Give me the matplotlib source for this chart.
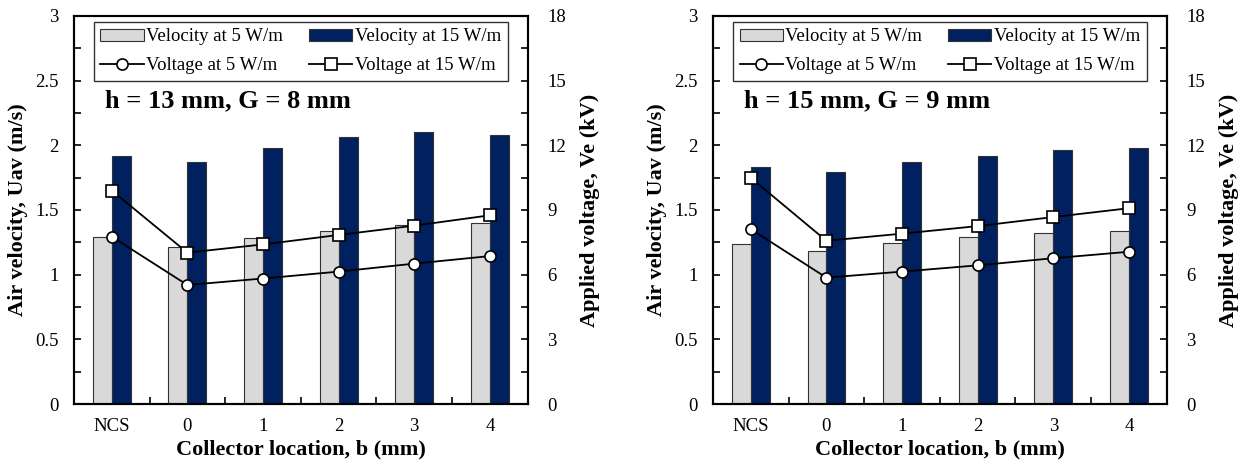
import matplotlib.pyplot as plt
from matplotlib.ticker import MultipleLocator, FixedLocator
import numpy as np

plt.rcParams['font.family'] = ['Liberation Serif', 'DejaVu Serif']

categories = ["NCS", "0", "1", "2", "3", "4"]

# h = 13 mm, G = 8 mm
vel5_a = [1.29, 1.21, 1.285, 1.34, 1.38, 1.40]
vel15_a = [1.92, 1.87, 1.98, 2.06, 2.10, 2.08]
volt5_a = [7.76, 5.52, 5.82, 6.14, 6.51, 6.86]
volt15_a = [9.90, 7.02, 7.40, 7.84, 8.27, 8.75]

# h = 15 mm, G = 9 mm
vel5_b = [1.24, 1.18, 1.245, 1.29, 1.325, 1.34]
vel15_b = [1.83, 1.79, 1.87, 1.92, 1.96, 1.98]
volt5_b = [8.11, 5.86, 6.14, 6.43, 6.76, 7.06]
volt15_b = [10.49, 7.57, 7.90, 8.25, 8.67, 9.08]

titles = ["h = 13 mm, G = 8 mm", "h = 15 mm, G = 9 mm"]

gray = "#d9d9d9"
navy = "#002060"

fig = plt.figure(figsize=(12.43, 4.66), dpi=100)
positions = [[0.0595, 0.133, 0.365, 0.833], [0.5736, 0.133, 0.365, 0.833]]
datasets = [(vel5_a, vel15_a, volt5_a, volt15_a), (vel5_b, vel15_b, volt5_b, volt15_b)]

for pos, (v5, v15, u5, u15), title in zip(positions, datasets, titles):
    ax = fig.add_axes(pos)
    x = np.arange(len(categories))
    w = 0.25
    b1 = ax.bar(x - w / 2, v5, w, color=gray, edgecolor="#333333", linewidth=0.8,
                label="Velocity at 5 W/m")
    b2 = ax.bar(x + w / 2, v15, w, color=navy, edgecolor="#333333", linewidth=0.8,
                label="Velocity at 15 W/m")
    ax.set_xlim(-0.5, len(categories) - 0.5)
    ax.set_ylim(0, 3)
    ax.yaxis.set_minor_locator(MultipleLocator(0.25))
    ax.set_yticks([0, 0.5, 1, 1.5, 2, 2.5, 3])
    ax.set_yticklabels(["0", "0.5", "1", "1.5", "2", "2.5", "3"])
    ax.set_xticks(x)
    ax.set_xticklabels(categories)
    ax.xaxis.set_minor_locator(FixedLocator(x[:-1] + 0.5))
    ax.tick_params(axis="x", which="major", length=0, pad=10, labelsize=13.5)
    ax.tick_params(axis="x", which="minor", direction="in", length=5, width=1.2)
    ax.tick_params(axis="y", which="both", direction="in", length=5, width=1.2,
                   labelsize=13.5, pad=11)
    ax.set_xlabel("Collector location, b (mm)", fontsize=16, fontweight="bold", labelpad=3)
    ax.set_ylabel("Air velocity, Uav (m/s)", fontsize=16, fontweight="bold", labelpad=5)
    for s in ax.spines.values():
        s.set_linewidth(1.5)

    ax2 = ax.twinx()
    l1, = ax2.plot(x, u5, "-o", color="black", lw=1.3, ms=8, mfc="white", mec="black",
                   mew=1.2, label="Voltage at 5 W/m")
    l2, = ax2.plot(x, u15, "-s", color="black", lw=1.3, ms=8, mfc="white", mec="black",
                   mew=1.2, label="Voltage at 15 W/m")
    ax2.set_ylim(0, 18)
    ax2.set_yticks([0, 3, 6, 9, 12, 15, 18])
    ax2.yaxis.set_minor_locator(MultipleLocator(1.5))
    ax2.tick_params(axis="y", which="both", direction="in", length=5, width=1.2,
                    labelsize=13.5, pad=14)
    ax2.set_ylabel("Applied voltage, Ve (kV)", fontsize=16, fontweight="bold", labelpad=10)
    for s in ax2.spines.values():
        s.set_linewidth(1.5)

    leg = ax2.legend([b1, l1, b2, l2],
                     ["Velocity at 5 W/m", "Voltage at 5 W/m",
                      "Velocity at 15 W/m", "Voltage at 15 W/m"],
                     ncol=2, loc="upper left", bbox_to_anchor=(0.044, 0.985, 0.912, 0.0),
                     mode="expand", fontsize=13.5, frameon=True, fancybox=False,
                     edgecolor="black", handlelength=2.3, handleheight=0.6,
                     handletextpad=0.15, borderpad=0.35, labelspacing=0.65,
                     columnspacing=1.0, borderaxespad=0)
    leg.get_frame().set_linewidth(1.0)
    ax2.text(0.068, 0.78, title, transform=ax.transAxes, fontsize=19,
             fontweight="bold", va="center", ha="left")

fig.savefig("out.png", dpi=100)
